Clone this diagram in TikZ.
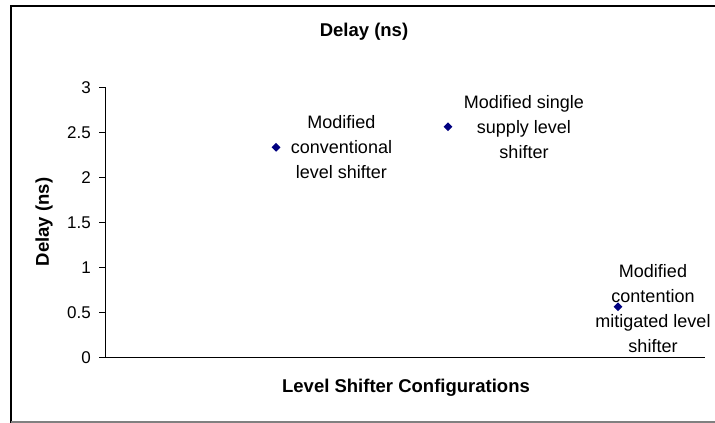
\documentclass[tikz,border=0pt]{standalone}
\usepackage{fontspec}
\setmainfont{Liberation Sans}
\usetikzlibrary{shapes.geometric}
\definecolor{markblue}{HTML}{000080}
\tikzset{
  marker/.style={shape=diamond, fill=markblue, inner sep=0pt, minimum width=9pt, minimum height=9pt},
  ticklabel/.style={anchor=east, inner sep=0pt, font=\fontsize{17}{20}\selectfont},
  pointlabel/.style={align=center, inner sep=0pt, font=\fontsize{18}{25}\selectfont},
  axistitle/.style={inner sep=0pt, font=\fontsize{18.5}{22}\selectfont\bfseries}
}

\begin{document}
\begin{tikzpicture}[x=1pt, y=-1pt]
    \useasboundingbox (0,0) rectangle (715,423);

    % outer frame
    \draw[line width=2pt] (11,424) -- (11,5.5) -- (716,5.5);
    \draw[line width=1.5pt, gray] (11,422) -- (716,422);

    \node[axistitle] (title) at (364,32) {Delay (ns)};
    \node[axistitle] (xtitle) at (406,388) {Level Shifter Configurations};
    \node[axistitle, rotate=90] (ytitle) at (44,222) {Delay (ns)};

    \begin{scope}[shift={(105,357.3)}, x=1pt, y=90pt]
        \coordinate (O) at (0,0);
        \coordinate (ytop) at (0,3);
        \coordinate (xend) at (600,0);
        \draw[line width=0.8pt] (ytop) -- (O) -- (xend);

        \foreach \v in {0,0.5,1,1.5,2,2.5,3} {
            \draw[line width=0.8pt] (-6,\v) -- (0,\v);
            \node[ticklabel] (tick\v) at (-14,\v) {\v};
        }

        \node[marker] (p1) at (171,2.333) {};
        \node[marker] (p2) at (343,2.562) {};
        \node[marker] (p3) at (513,0.562) {};

        \node[pointlabel] (l1) at (236.5,2.337) {Modified\\conventional\\level shifter};
        \node[pointlabel] (l2) at (419,2.559) {Modified single\\supply level\\shifter};
        \node[pointlabel] (l3) at (548,0.542) {Modified\\contention\\mitigated level\\shifter};
    \end{scope}

\end{tikzpicture}
\end{document}
